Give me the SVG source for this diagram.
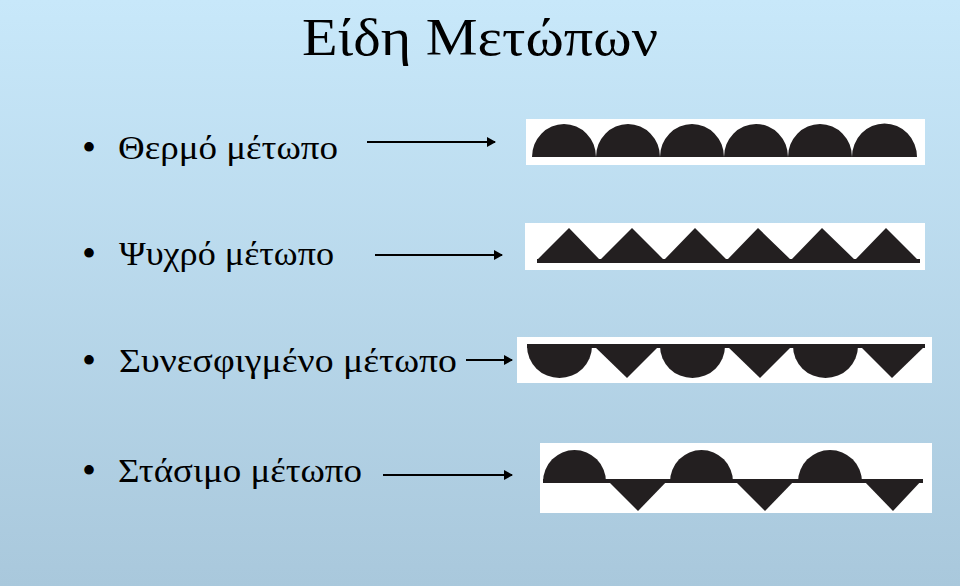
<svg xmlns="http://www.w3.org/2000/svg" width="960" height="586" viewBox="0 0 960 586">
<defs>
<linearGradient id="bg" x1="0" y1="0" x2="0" y2="1">
<stop offset="0" stop-color="#c8e8fa"/>
<stop offset="1" stop-color="#a9c8dc"/>
</linearGradient>
<marker id="ah" markerWidth="10" markerHeight="10" refX="8" refY="5" orient="auto" markerUnits="userSpaceOnUse">
<path d="M0,0 L9,5 L0,10 Z" fill="#000"/>
</marker>
<style>
.t{font-family:"Liberation Serif","Times New Roman",serif;fill:#000}
.lbl{font-size:34px}
.bul{font-size:40px}
.box{fill:#fff}
.sh{fill:#231f20}
.ar{stroke:#000;stroke-width:2;fill:none;marker-end:url(#ah)}
</style>
</defs>
<rect width="960" height="586" fill="url(#bg)"/>
<g id="title"><text class="t" x="302" y="55" font-size="53" textLength="356" lengthAdjust="spacingAndGlyphs">Είδη Μετώπων</text></g>

<g id="warm-label"><text class="t bul" x="82" y="161">•</text><text class="t lbl" x="118" y="159" textLength="220" lengthAdjust="spacingAndGlyphs">Θερμό μέτωπο</text></g>
<g id="cold-label"><text class="t bul" x="82" y="267">•</text><text class="t lbl" x="119" y="265" textLength="215" lengthAdjust="spacingAndGlyphs">Ψυχρό μέτωπο</text></g>
<g id="occluded-label"><text class="t bul" x="82" y="374">•</text><text class="t lbl" x="119" y="372" textLength="338" lengthAdjust="spacingAndGlyphs">Συνεσφιγμένο μέτωπο</text></g>
<g id="stationary-label"><text class="t bul" x="82" y="484">•</text><text class="t lbl" x="118" y="482" textLength="244" lengthAdjust="spacingAndGlyphs">Στάσιμο μέτωπο</text></g>

<g id="connectors">
<line class="ar" x1="367" y1="142" x2="495" y2="142"/>
<line class="ar" x1="375" y1="255" x2="502" y2="255"/>
<line class="ar" x1="466" y1="360" x2="512" y2="360"/>
<line class="ar" x1="383" y1="475" x2="512" y2="475"/>
</g>

<g id="warm-front">
<rect class="box" x="526" y="119" width="399" height="46"/>
<path class="sh" d="M532,157 A32,33 0 0 1 596,157 A32,33 0 0 1 660,157 A32,33 0 0 1 724,157 A32,33 0 0 1 788,157 A32,33 0 0 1 852,157 A32,33 0 0 1 917,157 Z"/>
</g>

<g id="cold-front">
<rect class="box" x="525" y="223" width="400" height="47"/>
<rect class="sh" x="537" y="259" width="383" height="4"/>
<path class="sh" d="M537,260 L569,228 L600,260 L632,228 L664,260 L695,228 L727,260 L758,228 L791,260 L822,228 L855,260 L886,228 L918,260 Z"/>
</g>

<g id="occluded-front">
<rect class="box" x="517" y="337" width="415" height="46"/>
<rect class="sh" x="527" y="344" width="398" height="4"/>
<path class="sh" d="M527,346 A32.5,32 0 0 0 592,346 Z"/>
<path class="sh" d="M594,346 L627,378 L659,346 Z"/>
<path class="sh" d="M660,346 A32.5,32 0 0 0 725,346 Z"/>
<path class="sh" d="M727,346 L760,378 L792,346 Z"/>
<path class="sh" d="M793,346 A32.5,32 0 0 0 858,346 Z"/>
<path class="sh" d="M860,346 L892,378 L925,346 Z"/>
</g>

<g id="stationary-front">
<rect class="box" x="540" y="443" width="392" height="70"/>
<rect class="sh" x="543" y="479" width="380" height="4"/>
<path class="sh" d="M543,482 A31.5,32 0 0 1 606,482 Z"/>
<path class="sh" d="M606,479 L638,511 L669,479 Z"/>
<path class="sh" d="M670,482 A31.5,32 0 0 1 733,482 Z"/>
<path class="sh" d="M733,479 L765,511 L796,479 Z"/>
<path class="sh" d="M798,482 A32,32 0 0 1 862,482 Z"/>
<path class="sh" d="M862,479 L893,511 L923,479 Z"/>
</g>
</svg>
